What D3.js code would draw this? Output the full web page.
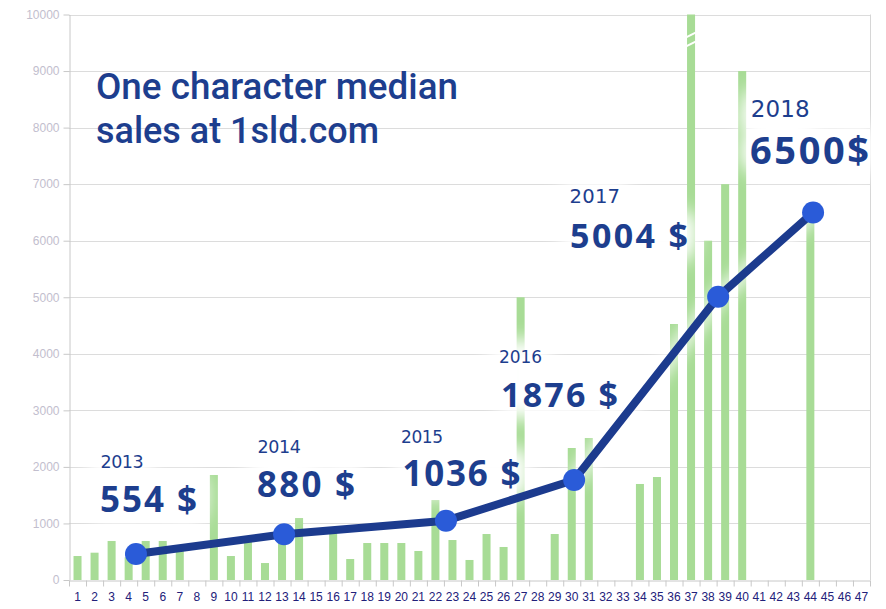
<!DOCTYPE html>
<html><head><meta charset="utf-8">
<script src="https://cdn.jsdelivr.net/npm/d3@7"></script>
<style>html,body{margin:0;padding:0;background:#fff;} svg{display:block}</style>
</head><body>
<svg id="chart" width="886" height="609"></svg>
<script>
// ---------- data ----------
const categories = ["1","2","3","4","5","6","7","8","9","10","11","12","13","14","15","16","17","18","19","20","21","22","23","24","25","26","27","28","29","30","31","32","33","34","35","36","37","38","39","40","41","42","43","44","45","46","47"];
const barValues = [424,483,690,400,690,690,580,null,1857,424,690,300,800,1096,null,825,371,654,654,654,513,1414,707,354,813,584,5000,null,813,2334,2511,null,null,1698,1821,4527,10000,6000,7000,9000,null,null,null,6450,null,null,null];
const yTicks = [0,1000,2000,3000,4000,5000,6000,7000,8000,9000,10000];
const lineX = [4.43,13.12,22.62,30.14,38.59,44.16];
const lineValues = [460,808,1049,1768,5010,6500];
const years = ["2013","2014","2015","2016","2017","2018"];
const priceLabels = ["554 $","880 $","1036 $","1876 $","5004 $","6500$"];
const titleLines = ["One character median","sales at 1sld.com"];
const brokenBar = "37";

// ---------- layout ----------
const L=69, R=870, T=14.5, B=580;
const yearPos = [[2.35,1975],[11.56,2246],[19.98,2428],[25.73,3832],[29.87,6672],[40.5,8187]];
const pricePos = [[2.32,1202],[11.53,1468],[20.07,1662],[25.85,3068],[29.9,5876],[40.46,7351]];
const yearSize=[17.5,17.5,17,17,19.6,23];
const yearWidth=[43,43.5,42,43,50.5,59];
const priceSize=[35,35,35,34,34,38];
const priceWidth=[97,98,118,117,118,119];
const blue="#1d3e8e";

const svg=d3.select("#chart");
const defs=svg.append("defs");
defs.append("filter").attr("id","glow").attr("x","-50%").attr("y","-100%").attr("width","200%").attr("height","300%")
  .append("feGaussianBlur").attr("stdDeviation",9);
defs.append("filter").attr("id","lglow").attr("x","-20%").attr("y","-20%").attr("width","140%").attr("height","140%")
  .append("feGaussianBlur").attr("stdDeviation",7);

const x=d3.scaleBand().domain(categories).range([L,R]).paddingInner(0.53).paddingOuter(0.265);
const xl=d3.scaleLinear().domain([0.5,categories.length+0.5]).range([L,R]);
const y=d3.scaleLinear().domain([0,10000]).range([B,T]);

// gridlines
svg.append("g").selectAll("line").data(yTicks.filter(d=>d>0)).join("line")
  .attr("x1",L).attr("x2",R).attr("y1",d=>Math.round(y(d))+0.5).attr("y2",d=>Math.round(y(d))+0.5)
  .attr("stroke","#dcdcdc");
svg.append("line").attr("x1",R+0.5).attr("x2",R+0.5).attr("y1",y(10000)).attr("y2",B).attr("stroke","#d6d6d6");

// bars
const barData=categories.map((c,i)=>({c,v:barValues[i]})).filter(d=>d.v!=null);
svg.append("g").selectAll("rect").data(barData).join("rect")
  .attr("x",d=>x(d.c)).attr("width",x.bandwidth())
  .attr("y",d=>y(d.v)).attr("height",d=>B-y(d.v)).attr("fill","#a8dc96");
// break marks
[9640,9480].forEach(v=>{
  svg.append("line").attr("x1",x(brokenBar)-1).attr("x2",x(brokenBar)+x.bandwidth()+1)
    .attr("y1",y(v)+2.5).attr("y2",y(v)-2.5).attr("stroke","#fff").attr("stroke-width",2);
});

// axes
const ya=svg.append("g").attr("transform",`translate(${L+0.5},0)`)
  .call(d3.axisLeft(y).tickValues(yTicks).tickFormat(d3.format("d")).tickSize(6).tickSizeOuter(0).tickPadding(4));
ya.selectAll("path,line").attr("stroke","#c8c8c8");
ya.selectAll("text").attr("fill","#c2bece").style("font-family","'Liberation Sans',Arial,sans-serif").style("font-size","12px");

const bounds=categories.map((c,i)=>i+0.5).concat([categories.length+0.5]);
const xa=svg.append("g").attr("transform",`translate(0,${B+0.5})`)
  .call(d3.axisBottom(xl).tickValues(bounds).tickSize(6).tickSizeOuter(0).tickFormat(""));
xa.selectAll("path,line").attr("stroke","#c8c8c8");
const xt=svg.append("g").attr("transform",`translate(0,${B})`)
  .call(d3.axisBottom(x).tickSize(0).tickPadding(12));
xt.select(".domain").remove();
xt.selectAll("text").attr("fill","#22207a").style("font-family","'Liberation Sans',Arial,sans-serif").style("font-size","12px");

// glows
const pts=lineX.map((c,i)=>[xl(c),y(lineValues[i])]);
const lineGen=d3.line();
const gl=svg.append("g").attr("filter","url(#lglow)");
gl.append("path").attr("d",lineGen(pts.slice(3))).attr("fill","none").attr("stroke","#fff").attr("stroke-width",18).attr("opacity",0.7);
const gg=svg.append("g").attr("filter","url(#glow)");
years.forEach((t,i)=>{
  gg.append("text").attr("x",xl(yearPos[i][0])).attr("y",y(yearPos[i][1])).text(t)
    .style("font-family","'DejaVu Sans',sans-serif").style("font-size",yearSize[i]+"px")
    .attr("textLength",yearWidth[i]).attr("fill","#fff").attr("stroke","#fff").attr("stroke-width",20);
  gg.append("text").attr("x",xl(pricePos[i][0])).attr("y",y(pricePos[i][1])).text(priceLabels[i])
    .style("font-family","'Noto Sans',sans-serif").style("font-weight",700).style("font-size",priceSize[i]+"px")
    .attr("textLength",priceWidth[i]).attr("fill","#fff").attr("stroke","#fff").attr("stroke-width",22);
});

// line + dots
svg.append("path").attr("d",lineGen(pts)).attr("fill","none").attr("stroke","#1c3b8e")
  .attr("stroke-width",8).attr("stroke-linejoin","round").attr("stroke-linecap","round");
svg.append("g").selectAll("circle").data(pts).join("circle")
  .attr("cx",d=>d[0]).attr("cy",d=>d[1]).attr("r",11).attr("fill","#2a5bd8");

// labels
years.forEach((t,i)=>{
  svg.append("text").attr("x",xl(yearPos[i][0])).attr("y",y(yearPos[i][1])).text(t)
    .style("font-family","'DejaVu Sans',sans-serif").style("font-size",yearSize[i]+"px")
    .attr("textLength",yearWidth[i]).attr("fill",blue);
  svg.append("text").attr("x",xl(pricePos[i][0])).attr("y",y(pricePos[i][1])).text(priceLabels[i])
    .style("font-family","'Noto Sans',sans-serif").style("font-weight",700).style("font-size",priceSize[i]+"px")
    .attr("textLength",priceWidth[i]).attr("fill",blue);
});

// title
const titleW=[362,283];
titleLines.forEach((t,i)=>{
  svg.append("text").attr("x",96).attr("y",98.5+i*44.3).text(t).attr("fill",blue)
    .style("font-family","Roboto,sans-serif").style("font-weight",500).style("font-size","37.5px")
    .attr("textLength",titleW[i]).attr("lengthAdjust","spacingAndGlyphs");
});
</script>
</body></html>
